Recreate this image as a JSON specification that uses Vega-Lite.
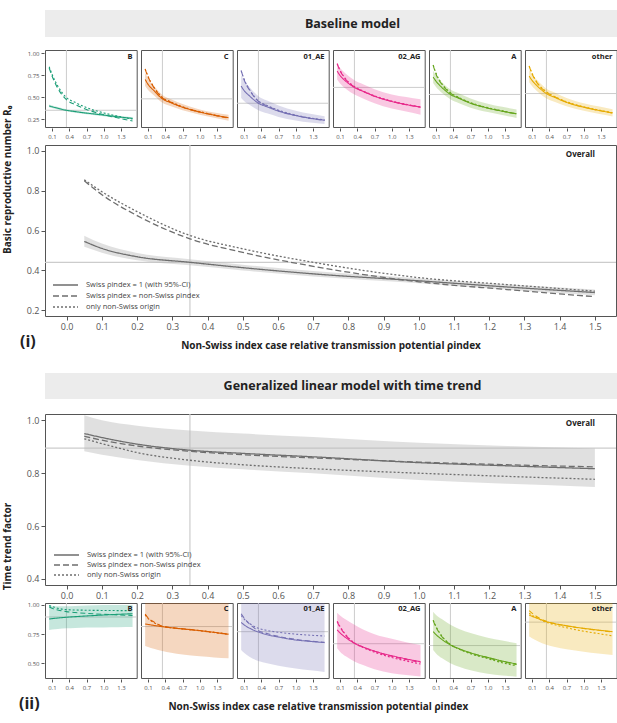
{
  "$schema": "https://vega.github.io/schema/vega-lite/v6.json",
  "description": "Basic reproductive number and time trend factor by non-Swiss index case relative transmission potential",
  "padding": {"left": 2, "top": 10, "right": 0, "bottom": 5},
  "config": {
    "font": "Open Sans",
    "view": {"stroke": "#555555", "strokeWidth": 1},
    "axis": {"domain": false, "grid": false, "tickColor": "#555555", "labelColor": "#555555", "titleColor": "#222222", "labelOverlap": false, "tickCount": 30},
    "title": {"color": "#222222"}
  },
  "datasets": {
    "baseAll": [
      {"rho": 0.05, "swiss1": 0.545, "lo": 0.518, "hi": 0.574, "swissSame": 0.85, "nonSwiss": 0.855},
      {"rho": 0.1, "swiss1": 0.51, "lo": 0.488, "hi": 0.534, "swissSame": 0.78, "nonSwiss": 0.795},
      {"rho": 0.2, "swiss1": 0.468, "lo": 0.45, "hi": 0.487, "swissSame": 0.675, "nonSwiss": 0.695},
      {"rho": 0.35, "swiss1": 0.44, "lo": 0.425, "hi": 0.456, "swissSame": 0.558, "nonSwiss": 0.575},
      {"rho": 0.5, "swiss1": 0.413, "lo": 0.399, "hi": 0.428, "swissSame": 0.49, "nonSwiss": 0.508},
      {"rho": 0.7, "swiss1": 0.382, "lo": 0.369, "hi": 0.396, "swissSame": 0.42, "nonSwiss": 0.44},
      {"rho": 1.0, "swiss1": 0.347, "lo": 0.335, "hi": 0.36, "swissSame": 0.342, "nonSwiss": 0.363},
      {"rho": 1.25, "swiss1": 0.316, "lo": 0.303, "hi": 0.33, "swissSame": 0.303, "nonSwiss": 0.328},
      {"rho": 1.5, "swiss1": 0.288, "lo": 0.274, "hi": 0.303, "swissSame": 0.267, "nonSwiss": 0.295}
    ],
    "trendAll": [
      {"rho": 0.05, "swiss1": 0.95, "lo": 0.883, "hi": 1.019, "swissSame": 0.94, "nonSwiss": 0.93},
      {"rho": 0.1, "swiss1": 0.935, "lo": 0.87, "hi": 1.0, "swissSame": 0.925, "nonSwiss": 0.912},
      {"rho": 0.2, "swiss1": 0.91, "lo": 0.85, "hi": 0.98, "swissSame": 0.903, "nonSwiss": 0.878},
      {"rho": 0.35, "swiss1": 0.887, "lo": 0.828, "hi": 0.962, "swissSame": 0.883, "nonSwiss": 0.849},
      {"rho": 0.5, "swiss1": 0.875, "lo": 0.815, "hi": 0.95, "swissSame": 0.87, "nonSwiss": 0.832},
      {"rho": 0.7, "swiss1": 0.862, "lo": 0.8, "hi": 0.937, "swissSame": 0.858, "nonSwiss": 0.817},
      {"rho": 1.0, "swiss1": 0.84, "lo": 0.774, "hi": 0.915, "swissSame": 0.842, "nonSwiss": 0.8},
      {"rho": 1.25, "swiss1": 0.828, "lo": 0.76, "hi": 0.903, "swissSame": 0.832, "nonSwiss": 0.788},
      {"rho": 1.5, "swiss1": 0.817, "lo": 0.748, "hi": 0.893, "swissSame": 0.824, "nonSwiss": 0.777}
    ],
    "baseSub": [
      {"subtype": "B", "ref": 0.35},
      {"subtype": "B", "rho": 0.05, "swiss1": 0.4, "lo": 0.385, "hi": 0.415, "swissSame": 0.83, "nonSwiss": 0.845},
      {"subtype": "B", "rho": 0.1, "swiss1": 0.39, "lo": 0.376, "hi": 0.404, "swissSame": 0.74, "nonSwiss": 0.76},
      {"subtype": "B", "rho": 0.2, "swiss1": 0.373, "lo": 0.36, "hi": 0.386, "swissSame": 0.6, "nonSwiss": 0.625},
      {"subtype": "B", "rho": 0.35, "swiss1": 0.35, "lo": 0.338, "hi": 0.362, "swissSame": 0.47, "nonSwiss": 0.495},
      {"subtype": "B", "rho": 0.5, "swiss1": 0.335, "lo": 0.323, "hi": 0.347, "swissSame": 0.415, "nonSwiss": 0.44},
      {"subtype": "B", "rho": 0.7, "swiss1": 0.318, "lo": 0.306, "hi": 0.33, "swissSame": 0.36, "nonSwiss": 0.38},
      {"subtype": "B", "rho": 1.0, "swiss1": 0.295, "lo": 0.283, "hi": 0.307, "swissSame": 0.3, "nonSwiss": 0.32},
      {"subtype": "B", "rho": 1.25, "swiss1": 0.275, "lo": 0.263, "hi": 0.288, "swissSame": 0.262, "nonSwiss": 0.282},
      {"subtype": "B", "rho": 1.5, "swiss1": 0.258, "lo": 0.245, "hi": 0.272, "swissSame": 0.228, "nonSwiss": 0.25},
      {"subtype": "C", "ref": 0.48},
      {"subtype": "C", "rho": 0.05, "swiss1": 0.7, "lo": 0.625, "hi": 0.776, "swissSame": 0.815, "nonSwiss": 0.82},
      {"subtype": "C", "rho": 0.1, "swiss1": 0.645, "lo": 0.58, "hi": 0.71, "swissSame": 0.73, "nonSwiss": 0.735},
      {"subtype": "C", "rho": 0.2, "swiss1": 0.575, "lo": 0.52, "hi": 0.63, "swissSame": 0.61, "nonSwiss": 0.615},
      {"subtype": "C", "rho": 0.35, "swiss1": 0.48, "lo": 0.435, "hi": 0.525, "swissSame": 0.49, "nonSwiss": 0.495},
      {"subtype": "C", "rho": 0.5, "swiss1": 0.435, "lo": 0.395, "hi": 0.475, "swissSame": 0.44, "nonSwiss": 0.445},
      {"subtype": "C", "rho": 0.7, "swiss1": 0.385, "lo": 0.35, "hi": 0.42, "swissSame": 0.385, "nonSwiss": 0.39},
      {"subtype": "C", "rho": 1.0, "swiss1": 0.33, "lo": 0.3, "hi": 0.36, "swissSame": 0.33, "nonSwiss": 0.335},
      {"subtype": "C", "rho": 1.25, "swiss1": 0.295, "lo": 0.265, "hi": 0.325, "swissSame": 0.293, "nonSwiss": 0.297},
      {"subtype": "C", "rho": 1.5, "swiss1": 0.265, "lo": 0.232, "hi": 0.3, "swissSame": 0.262, "nonSwiss": 0.265},
      {"subtype": "01_AE", "ref": 0.43},
      {"subtype": "01_AE", "rho": 0.05, "swiss1": 0.625, "lo": 0.49, "hi": 0.75, "swissSame": 0.8, "nonSwiss": 0.8},
      {"subtype": "01_AE", "rho": 0.1, "swiss1": 0.575, "lo": 0.455, "hi": 0.69, "swissSame": 0.7, "nonSwiss": 0.705},
      {"subtype": "01_AE", "rho": 0.2, "swiss1": 0.51, "lo": 0.41, "hi": 0.61, "swissSame": 0.575, "nonSwiss": 0.58},
      {"subtype": "01_AE", "rho": 0.35, "swiss1": 0.43, "lo": 0.35, "hi": 0.51, "swissSame": 0.45, "nonSwiss": 0.455},
      {"subtype": "01_AE", "rho": 0.5, "swiss1": 0.39, "lo": 0.315, "hi": 0.46, "swissSame": 0.4, "nonSwiss": 0.405},
      {"subtype": "01_AE", "rho": 0.7, "swiss1": 0.34, "lo": 0.275, "hi": 0.405, "swissSame": 0.345, "nonSwiss": 0.35},
      {"subtype": "01_AE", "rho": 1.0, "swiss1": 0.29, "lo": 0.235, "hi": 0.345, "swissSame": 0.29, "nonSwiss": 0.295},
      {"subtype": "01_AE", "rho": 1.25, "swiss1": 0.26, "lo": 0.21, "hi": 0.31, "swissSame": 0.258, "nonSwiss": 0.262},
      {"subtype": "01_AE", "rho": 1.5, "swiss1": 0.238, "lo": 0.195, "hi": 0.282, "swissSame": 0.235, "nonSwiss": 0.24},
      {"subtype": "02_AG", "ref": 0.61},
      {"subtype": "02_AG", "rho": 0.05, "swiss1": 0.795, "lo": 0.7, "hi": 0.87, "swissSame": 0.878, "nonSwiss": 0.88},
      {"subtype": "02_AG", "rho": 0.1, "swiss1": 0.745, "lo": 0.655, "hi": 0.83, "swissSame": 0.8, "nonSwiss": 0.805},
      {"subtype": "02_AG", "rho": 0.2, "swiss1": 0.68, "lo": 0.595, "hi": 0.765, "swissSame": 0.7, "nonSwiss": 0.705},
      {"subtype": "02_AG", "rho": 0.35, "swiss1": 0.61, "lo": 0.53, "hi": 0.69, "swissSame": 0.615, "nonSwiss": 0.62},
      {"subtype": "02_AG", "rho": 0.5, "swiss1": 0.565, "lo": 0.485, "hi": 0.645, "swissSame": 0.565, "nonSwiss": 0.57},
      {"subtype": "02_AG", "rho": 0.7, "swiss1": 0.51, "lo": 0.43, "hi": 0.59, "swissSame": 0.51, "nonSwiss": 0.515},
      {"subtype": "02_AG", "rho": 1.0, "swiss1": 0.45, "lo": 0.37, "hi": 0.53, "swissSame": 0.45, "nonSwiss": 0.455},
      {"subtype": "02_AG", "rho": 1.25, "swiss1": 0.415, "lo": 0.335, "hi": 0.5, "swissSame": 0.413, "nonSwiss": 0.418},
      {"subtype": "02_AG", "rho": 1.5, "swiss1": 0.386, "lo": 0.3, "hi": 0.474, "swissSame": 0.384, "nonSwiss": 0.388},
      {"subtype": "A", "ref": 0.53},
      {"subtype": "A", "rho": 0.05, "swiss1": 0.727, "lo": 0.66, "hi": 0.8, "swissSame": 0.86, "nonSwiss": 0.865},
      {"subtype": "A", "rho": 0.1, "swiss1": 0.68, "lo": 0.615, "hi": 0.745, "swissSame": 0.76, "nonSwiss": 0.77},
      {"subtype": "A", "rho": 0.2, "swiss1": 0.61, "lo": 0.55, "hi": 0.67, "swissSame": 0.645, "nonSwiss": 0.655},
      {"subtype": "A", "rho": 0.35, "swiss1": 0.53, "lo": 0.475, "hi": 0.585, "swissSame": 0.545, "nonSwiss": 0.55},
      {"subtype": "A", "rho": 0.5, "swiss1": 0.485, "lo": 0.43, "hi": 0.54, "swissSame": 0.49, "nonSwiss": 0.495},
      {"subtype": "A", "rho": 0.7, "swiss1": 0.43, "lo": 0.38, "hi": 0.485, "swissSame": 0.432, "nonSwiss": 0.437},
      {"subtype": "A", "rho": 1.0, "swiss1": 0.375, "lo": 0.33, "hi": 0.425, "swissSame": 0.375, "nonSwiss": 0.38},
      {"subtype": "A", "rho": 1.25, "swiss1": 0.34, "lo": 0.295, "hi": 0.39, "swissSame": 0.34, "nonSwiss": 0.343},
      {"subtype": "A", "rho": 1.5, "swiss1": 0.31, "lo": 0.262, "hi": 0.358, "swissSame": 0.308, "nonSwiss": 0.31},
      {"subtype": "other", "ref": 0.54},
      {"subtype": "other", "rho": 0.05, "swiss1": 0.738, "lo": 0.668, "hi": 0.81, "swissSame": 0.85, "nonSwiss": 0.855},
      {"subtype": "other", "rho": 0.1, "swiss1": 0.69, "lo": 0.625, "hi": 0.76, "swissSame": 0.765, "nonSwiss": 0.77},
      {"subtype": "other", "rho": 0.2, "swiss1": 0.62, "lo": 0.56, "hi": 0.685, "swissSame": 0.65, "nonSwiss": 0.655},
      {"subtype": "other", "rho": 0.35, "swiss1": 0.54, "lo": 0.485, "hi": 0.595, "swissSame": 0.555, "nonSwiss": 0.56},
      {"subtype": "other", "rho": 0.5, "swiss1": 0.495, "lo": 0.445, "hi": 0.55, "swissSame": 0.5, "nonSwiss": 0.505},
      {"subtype": "other", "rho": 0.7, "swiss1": 0.44, "lo": 0.395, "hi": 0.49, "swissSame": 0.442, "nonSwiss": 0.447},
      {"subtype": "other", "rho": 1.0, "swiss1": 0.385, "lo": 0.345, "hi": 0.43, "swissSame": 0.385, "nonSwiss": 0.39},
      {"subtype": "other", "rho": 1.25, "swiss1": 0.35, "lo": 0.31, "hi": 0.395, "swissSame": 0.35, "nonSwiss": 0.354},
      {"subtype": "other", "rho": 1.5, "swiss1": 0.32, "lo": 0.28, "hi": 0.362, "swissSame": 0.318, "nonSwiss": 0.322}
    ],
    "trendSub": [
      {"subtype": "B", "ref": 0.897},
      {"subtype": "B", "rho": 0.05, "swiss1": 0.88, "lo": 0.786, "hi": 0.995, "swissSame": 0.985, "nonSwiss": 0.995},
      {"subtype": "B", "rho": 0.1, "swiss1": 0.883, "lo": 0.79, "hi": 0.99, "swissSame": 0.972, "nonSwiss": 0.988},
      {"subtype": "B", "rho": 0.2, "swiss1": 0.888, "lo": 0.795, "hi": 0.99, "swissSame": 0.957, "nonSwiss": 0.972},
      {"subtype": "B", "rho": 0.35, "swiss1": 0.895, "lo": 0.8, "hi": 0.99, "swissSame": 0.943, "nonSwiss": 0.96},
      {"subtype": "B", "rho": 0.5, "swiss1": 0.9, "lo": 0.803, "hi": 0.992, "swissSame": 0.935, "nonSwiss": 0.957},
      {"subtype": "B", "rho": 0.7, "swiss1": 0.906, "lo": 0.806, "hi": 0.995, "swissSame": 0.928, "nonSwiss": 0.955},
      {"subtype": "B", "rho": 1.0, "swiss1": 0.914, "lo": 0.808, "hi": 1.0, "swissSame": 0.92, "nonSwiss": 0.953},
      {"subtype": "B", "rho": 1.25, "swiss1": 0.92, "lo": 0.81, "hi": 1.0, "swissSame": 0.915, "nonSwiss": 0.952},
      {"subtype": "B", "rho": 1.5, "swiss1": 0.925, "lo": 0.812, "hi": 1.0, "swissSame": 0.91, "nonSwiss": 0.952},
      {"subtype": "C", "ref": 0.815},
      {"subtype": "C", "rho": 0.05, "swiss1": 0.837, "lo": 0.649, "hi": 1.06, "swissSame": 0.923, "nonSwiss": 0.915},
      {"subtype": "C", "rho": 0.1, "swiss1": 0.833, "lo": 0.64, "hi": 1.06, "swissSame": 0.89, "nonSwiss": 0.885},
      {"subtype": "C", "rho": 0.2, "swiss1": 0.825, "lo": 0.625, "hi": 1.06, "swissSame": 0.855, "nonSwiss": 0.85},
      {"subtype": "C", "rho": 0.35, "swiss1": 0.814, "lo": 0.605, "hi": 1.06, "swissSame": 0.818, "nonSwiss": 0.818},
      {"subtype": "C", "rho": 0.5, "swiss1": 0.805, "lo": 0.59, "hi": 1.06, "swissSame": 0.806, "nonSwiss": 0.805},
      {"subtype": "C", "rho": 0.7, "swiss1": 0.795, "lo": 0.575, "hi": 1.06, "swissSame": 0.796, "nonSwiss": 0.794},
      {"subtype": "C", "rho": 1.0, "swiss1": 0.78, "lo": 0.56, "hi": 1.06, "swissSame": 0.781, "nonSwiss": 0.779},
      {"subtype": "C", "rho": 1.25, "swiss1": 0.765, "lo": 0.55, "hi": 1.06, "swissSame": 0.766, "nonSwiss": 0.764},
      {"subtype": "C", "rho": 1.5, "swiss1": 0.749, "lo": 0.543, "hi": 1.06, "swissSame": 0.75, "nonSwiss": 0.748},
      {"subtype": "01_AE", "ref": 0.771},
      {"subtype": "01_AE", "rho": 0.05, "swiss1": 0.85, "lo": 0.614, "hi": 1.06, "swissSame": 0.925, "nonSwiss": 0.91},
      {"subtype": "01_AE", "rho": 0.1, "swiss1": 0.83, "lo": 0.59, "hi": 1.06, "swissSame": 0.89, "nonSwiss": 0.88},
      {"subtype": "01_AE", "rho": 0.2, "swiss1": 0.8, "lo": 0.555, "hi": 1.06, "swissSame": 0.835, "nonSwiss": 0.84},
      {"subtype": "01_AE", "rho": 0.35, "swiss1": 0.768, "lo": 0.52, "hi": 1.06, "swissSame": 0.78, "nonSwiss": 0.8},
      {"subtype": "01_AE", "rho": 0.5, "swiss1": 0.745, "lo": 0.5, "hi": 1.06, "swissSame": 0.755, "nonSwiss": 0.782},
      {"subtype": "01_AE", "rho": 0.7, "swiss1": 0.725, "lo": 0.48, "hi": 1.06, "swissSame": 0.73, "nonSwiss": 0.766},
      {"subtype": "01_AE", "rho": 1.0, "swiss1": 0.7, "lo": 0.455, "hi": 1.06, "swissSame": 0.705, "nonSwiss": 0.75},
      {"subtype": "01_AE", "rho": 1.25, "swiss1": 0.688, "lo": 0.44, "hi": 1.06, "swissSame": 0.69, "nonSwiss": 0.741},
      {"subtype": "01_AE", "rho": 1.5, "swiss1": 0.677, "lo": 0.425, "hi": 1.06, "swissSame": 0.68, "nonSwiss": 0.734},
      {"subtype": "02_AG", "ref": 0.668},
      {"subtype": "02_AG", "rho": 0.05, "swiss1": 0.786, "lo": 0.629, "hi": 0.934, "swissSame": 0.857, "nonSwiss": 0.86},
      {"subtype": "02_AG", "rho": 0.1, "swiss1": 0.76, "lo": 0.6, "hi": 0.91, "swissSame": 0.81, "nonSwiss": 0.815},
      {"subtype": "02_AG", "rho": 0.2, "swiss1": 0.72, "lo": 0.56, "hi": 0.875, "swissSame": 0.74, "nonSwiss": 0.745},
      {"subtype": "02_AG", "rho": 0.35, "swiss1": 0.672, "lo": 0.515, "hi": 0.83, "swissSame": 0.672, "nonSwiss": 0.675},
      {"subtype": "02_AG", "rho": 0.5, "swiss1": 0.64, "lo": 0.485, "hi": 0.79, "swissSame": 0.64, "nonSwiss": 0.635},
      {"subtype": "02_AG", "rho": 0.7, "swiss1": 0.605, "lo": 0.45, "hi": 0.75, "swissSame": 0.603, "nonSwiss": 0.595},
      {"subtype": "02_AG", "rho": 1.0, "swiss1": 0.565, "lo": 0.415, "hi": 0.71, "swissSame": 0.56, "nonSwiss": 0.55},
      {"subtype": "02_AG", "rho": 1.25, "swiss1": 0.538, "lo": 0.4, "hi": 0.68, "swissSame": 0.532, "nonSwiss": 0.52},
      {"subtype": "02_AG", "rho": 1.5, "swiss1": 0.514, "lo": 0.386, "hi": 0.657, "swissSame": 0.508, "nonSwiss": 0.494},
      {"subtype": "A", "ref": 0.652},
      {"subtype": "A", "rho": 0.05, "swiss1": 0.771, "lo": 0.614, "hi": 0.943, "swissSame": 0.866, "nonSwiss": 0.87},
      {"subtype": "A", "rho": 0.1, "swiss1": 0.745, "lo": 0.585, "hi": 0.915, "swissSame": 0.81, "nonSwiss": 0.815},
      {"subtype": "A", "rho": 0.2, "swiss1": 0.705, "lo": 0.545, "hi": 0.88, "swissSame": 0.73, "nonSwiss": 0.735},
      {"subtype": "A", "rho": 0.35, "swiss1": 0.657, "lo": 0.5, "hi": 0.83, "swissSame": 0.66, "nonSwiss": 0.662},
      {"subtype": "A", "rho": 0.5, "swiss1": 0.625, "lo": 0.47, "hi": 0.795, "swissSame": 0.625, "nonSwiss": 0.622},
      {"subtype": "A", "rho": 0.7, "swiss1": 0.59, "lo": 0.44, "hi": 0.76, "swissSame": 0.588, "nonSwiss": 0.582},
      {"subtype": "A", "rho": 1.0, "swiss1": 0.55, "lo": 0.41, "hi": 0.72, "swissSame": 0.548, "nonSwiss": 0.54},
      {"subtype": "A", "rho": 1.25, "swiss1": 0.52, "lo": 0.395, "hi": 0.695, "swissSame": 0.515, "nonSwiss": 0.505},
      {"subtype": "A", "rho": 1.5, "swiss1": 0.494, "lo": 0.385, "hi": 0.672, "swissSame": 0.49, "nonSwiss": 0.478},
      {"subtype": "other", "ref": 0.853},
      {"subtype": "other", "rho": 0.05, "swiss1": 0.914, "lo": 0.729, "hi": 1.06, "swissSame": 0.951, "nonSwiss": 0.93},
      {"subtype": "other", "rho": 0.1, "swiss1": 0.903, "lo": 0.715, "hi": 1.06, "swissSame": 0.93, "nonSwiss": 0.912},
      {"subtype": "other", "rho": 0.2, "swiss1": 0.885, "lo": 0.69, "hi": 1.06, "swissSame": 0.895, "nonSwiss": 0.885},
      {"subtype": "other", "rho": 0.35, "swiss1": 0.857, "lo": 0.66, "hi": 1.06, "swissSame": 0.86, "nonSwiss": 0.852},
      {"subtype": "other", "rho": 0.5, "swiss1": 0.84, "lo": 0.64, "hi": 1.06, "swissSame": 0.84, "nonSwiss": 0.83},
      {"subtype": "other", "rho": 0.7, "swiss1": 0.822, "lo": 0.62, "hi": 1.06, "swissSame": 0.82, "nonSwiss": 0.805},
      {"subtype": "other", "rho": 1.0, "swiss1": 0.8, "lo": 0.6, "hi": 1.06, "swissSame": 0.798, "nonSwiss": 0.775},
      {"subtype": "other", "rho": 1.25, "swiss1": 0.785, "lo": 0.585, "hi": 1.06, "swissSame": 0.783, "nonSwiss": 0.755},
      {"subtype": "other", "rho": 1.5, "swiss1": 0.771, "lo": 0.571, "hi": 1.06, "swissSame": 0.769, "nonSwiss": 0.735}
    ]
  },
  "vconcat": [
    {
      "spacing": 12,
      "vconcat": [
        {
          "width": 615,
          "height": 27,
          "view": {"fill": "#ececec", "stroke": null},
          "data": {"values": [{"heading": "Baseline model"}]},
          "mark": {"type": "text", "fontSize": 12.5, "fontWeight": "bold", "color": "#222222"},
          "encoding": {
            "text": {"field": "heading"},
            "x": {"datum": 0.5, "type": "quantitative", "scale": {"domain": [0, 1]}, "axis": null},
            "y": {"datum": 0.5, "type": "quantitative", "scale": {"domain": [0, 1]}, "axis": null}
          }
        },
        {
          "spacing": 4,
          "title": {"text": "Basic reproductive number R₀", "orient": "left", "anchor": "middle", "fontSize": 10, "fontWeight": "bold", "offset": 6, "dx": 20},
          "resolve": {"scale": {"strokeDash": "independent", "color": "independent"}},
          "vconcat": [
            {
              "data": {"name": "baseSub"},
              "facet": {"column": {"field": "subtype", "type": "nominal", "sort": ["B", "C", "01_AE", "02_AG", "A", "other"], "header": null}},
              "spacing": 2,
              "spec": {
                "width": 91.7,
                "height": 77,
                "layer": [
                  {
                    "transform": [{"filter": "datum.ref != null"}],
                    "mark": {"type": "rule", "color": "#cccccc", "strokeWidth": 1},
                    "encoding": {"y": {"field": "ref", "type": "quantitative"}}
                  },
                  {
                    "transform": [{"filter": "datum.ref != null"}],
                    "mark": {"type": "rule", "color": "#cccccc", "strokeWidth": 1},
                    "encoding": {"x": {"datum": 0.35, "type": "quantitative"}}
                  },
                  {
                    "transform": [{"filter": "datum.rho != null"}],
                    "mark": {"type": "area", "opacity": 0.25, "clip": true, "interpolate": "monotone"},
                    "encoding": {
                      "x": {"field": "rho", "type": "quantitative", "scale": {"domain": [-0.0225, 1.5725], "nice": false, "zero": false},
                        "axis": {"values": [0.1, 0.4, 0.7, 1.0, 1.3], "tickCount": 30, "format": ".1f", "title": null, "labelFontSize": 6, "tickSize": 3, "labelPadding": 2, "labelOverlap": false}},
                      "y": {"field": "lo", "type": "quantitative", "scale": {"domain": [0.16, 1.035], "nice": false, "zero": false},
                        "axis": {"values": [0.25, 0.5, 0.75, 1.0], "tickCount": 30, "format": ".2f", "title": null, "labelFontSize": 6, "tickSize": 3, "labelPadding": 2, "minExtent": 25, "labelOverlap": false}},
                      "y2": {"field": "hi"},
                      "color": {"field": "subtype", "type": "nominal", "scale": {"domain": ["B", "C", "01_AE", "02_AG", "A", "other"], "range": ["#1b9e77", "#d95f02", "#7570b3", "#e7298a", "#66a61e", "#e6ab02"]}, "legend": null}
                    }
                  },
                  {
                    "transform": [{"filter": "datum.rho != null"}, {"fold": ["swiss1", "swissSame", "nonSwiss"], "as": ["scenario", "value"]}],
                    "mark": {"type": "line", "strokeWidth": 1.1, "clip": true, "interpolate": "monotone"},
                    "encoding": {
                      "x": {"field": "rho", "type": "quantitative"},
                      "y": {"field": "value", "type": "quantitative"},
                      "color": {"field": "subtype", "type": "nominal", "legend": null},
                      "strokeDash": {"field": "scenario", "type": "nominal", "scale": {"domain": ["swiss1", "swissSame", "nonSwiss"], "range": [[1, 0], [5, 3], [2, 2]]}, "legend": null}
                    }
                  },
                  {
                    "transform": [{"filter": "datum.ref != null"}],
                    "mark": {"type": "text", "align": "right", "baseline": "top", "fontSize": 7.5, "fontWeight": "bold", "color": "#222222"},
                    "encoding": {"x": {"datum": 1.5}, "y": {"datum": 1.0}, "text": {"field": "subtype"}}
                  }
                ]
              }
            },
            {
              "width": 571,
              "height": 171,
              "data": {"name": "baseAll"},
              "title": {"text": "(i)", "orient": "bottom", "anchor": "start", "fontSize": 16, "fontWeight": "bold", "offset": -16},
              "layer": [
                {
                  "data": {"values": [{"ref": 0.44}]},
                  "mark": {"type": "rule", "color": "#cccccc", "strokeWidth": 1.2},
                  "encoding": {"y": {"field": "ref", "type": "quantitative"}}
                },
                {
                  "data": {"values": [{"ref": 0.44}]},
                  "mark": {"type": "rule", "color": "#cccccc", "strokeWidth": 1.2},
                  "encoding": {"x": {"datum": 0.35, "type": "quantitative"}}
                },
                {
                  "mark": {"type": "area", "color": "#bbbbbb", "opacity": 0.45, "interpolate": "monotone"},
                  "encoding": {
                    "x": {"field": "rho", "type": "quantitative", "scale": {"domain": [-0.0616, 1.56], "nice": false, "zero": false},
                      "axis": {"values": [0, 0.1, 0.2, 0.3, 0.4, 0.5, 0.6, 0.7, 0.8, 0.9, 1.0, 1.1, 1.2, 1.3, 1.4, 1.5], "tickCount": 30, "format": ".1f", "labelFontSize": 9, "tickSize": 4, "labelPadding": 2, "labelOverlap": false,
                        "title": "Non-Swiss index case relative transmission potential ρindex", "titleFontSize": 10, "titleFontWeight": "bold", "titlePadding": 9}},
                    "y": {"field": "lo", "type": "quantitative", "scale": {"domain": [0.17, 1.03], "nice": false, "zero": false},
                      "axis": {"values": [0.2, 0.4, 0.6, 0.8, 1.0], "tickCount": 30, "format": ".1f", "title": null, "labelFontSize": 9, "tickSize": 4, "labelPadding": 2, "minExtent": 25, "labelOverlap": false}},
                    "y2": {"field": "hi"}
                  }
                },
                {
                  "transform": [{"fold": ["swiss1", "swissSame", "nonSwiss"], "as": ["scenario", "value"]}],
                  "mark": {"type": "line", "color": "#6e6e6e", "strokeWidth": 1.3, "interpolate": "monotone"},
                  "encoding": {
                    "x": {"field": "rho", "type": "quantitative"},
                    "y": {"field": "value", "type": "quantitative"},
                    "strokeDash": {"field": "scenario", "type": "nominal", "scale": {"domain": ["swiss1", "swissSame", "nonSwiss"], "range": [[1, 0], [6, 3], [2, 2]]},
                      "legend": {"orient": "bottom-left", "title": null, "symbolType": "M-0.6,0L4.4,0", "symbolStrokeColor": "#6e6e6e", "symbolFillColor": "transparent", "symbolStrokeWidth": 1.3, "symbolSize": 100,
                        "labelOffset": 24, "labelFontSize": 7.5, "labelColor": "#444444", "rowPadding": 1, "offset": 5, "padding": 0,
                        "labelExpr": "datum.value == 'swiss1' ? 'Swiss ρindex = 1 (with 95%-CI)' : datum.value == 'swissSame' ? 'Swiss ρindex = non-Swiss ρindex' : 'only non-Swiss origin'"}}
                  }
                },
                {
                  "data": {"values": [{"label": "Overall"}]},
                  "mark": {"type": "text", "align": "right", "baseline": "top", "fontSize": 8, "fontWeight": "bold", "color": "#222222"},
                  "encoding": {"x": {"datum": 1.5}, "y": {"datum": 1.0}, "text": {"field": "label"}}
                }
              ]
            }
          ]
        }
      ]
    },
    {
      "spacing": 13,
      "vconcat": [
        {
          "width": 615,
          "height": 26,
          "view": {"fill": "#ececec", "stroke": null},
          "data": {"values": [{"heading": "Generalized linear model with time trend"}]},
          "mark": {"type": "text", "fontSize": 12.5, "fontWeight": "bold", "color": "#222222"},
          "encoding": {
            "text": {"field": "heading"},
            "x": {"datum": 0.5, "type": "quantitative", "scale": {"domain": [0, 1]}, "axis": null},
            "y": {"datum": 0.5, "type": "quantitative", "scale": {"domain": [0, 1]}, "axis": null}
          }
        },
        {
          "spacing": 0,
          "title": {"text": "Time trend factor", "orient": "left", "anchor": "middle", "fontSize": 10, "fontWeight": "bold", "offset": 6, "dx": 16},
          "resolve": {"scale": {"strokeDash": "independent", "color": "independent"}},
          "vconcat": [
            {
              "width": 571,
              "height": 171,
              "data": {"name": "trendAll"},
              "layer": [
                {
                  "data": {"values": [{"ref": 0.895}]},
                  "mark": {"type": "rule", "color": "#cccccc", "strokeWidth": 1.2},
                  "encoding": {"y": {"field": "ref", "type": "quantitative"}}
                },
                {
                  "data": {"values": [{"ref": 0.895}]},
                  "mark": {"type": "rule", "color": "#cccccc", "strokeWidth": 1.2},
                  "encoding": {"x": {"datum": 0.35, "type": "quantitative"}}
                },
                {
                  "mark": {"type": "area", "color": "#bbbbbb", "opacity": 0.45, "clip": true, "interpolate": "monotone"},
                  "encoding": {
                    "x": {"field": "rho", "type": "quantitative", "scale": {"domain": [-0.0616, 1.56], "nice": false, "zero": false},
                      "axis": {"values": [0, 0.1, 0.2, 0.3, 0.4, 0.5, 0.6, 0.7, 0.8, 0.9, 1.0, 1.1, 1.2, 1.3, 1.4, 1.5], "tickCount": 30, "format": ".1f", "labelFontSize": 9, "tickSize": 4, "labelPadding": 2, "labelOverlap": false, "title": null}},
                    "y": {"field": "lo", "type": "quantitative", "scale": {"domain": [0.377, 1.024], "nice": false, "zero": false},
                      "axis": {"values": [0.4, 0.6, 0.8, 1.0], "tickCount": 30, "format": ".1f", "title": null, "labelFontSize": 9, "tickSize": 4, "labelPadding": 2, "minExtent": 25, "labelOverlap": false}},
                    "y2": {"field": "hi"}
                  }
                },
                {
                  "transform": [{"fold": ["swiss1", "swissSame", "nonSwiss"], "as": ["scenario", "value"]}],
                  "mark": {"type": "line", "color": "#6e6e6e", "strokeWidth": 1.3, "interpolate": "monotone"},
                  "encoding": {
                    "x": {"field": "rho", "type": "quantitative"},
                    "y": {"field": "value", "type": "quantitative"},
                    "strokeDash": {"field": "scenario", "type": "nominal", "scale": {"domain": ["swiss1", "swissSame", "nonSwiss"], "range": [[1, 0], [6, 3], [2, 2]]},
                      "legend": {"orient": "bottom-left", "title": null, "symbolType": "M-0.6,0L4.4,0", "symbolStrokeColor": "#6e6e6e", "symbolFillColor": "transparent", "symbolStrokeWidth": 1.3, "symbolSize": 100,
                        "labelOffset": 24, "labelFontSize": 7.5, "labelColor": "#444444", "rowPadding": 0, "offset": 6, "padding": 0,
                        "labelExpr": "datum.value == 'swiss1' ? 'Swiss ρindex = 1 (with 95%-CI)' : datum.value == 'swissSame' ? 'Swiss ρindex = non-Swiss ρindex' : 'only non-Swiss origin'"}}
                  }
                },
                {
                  "data": {"values": [{"label": "Overall"}]},
                  "mark": {"type": "text", "align": "right", "baseline": "top", "fontSize": 8, "fontWeight": "bold", "color": "#222222"},
                  "encoding": {"x": {"datum": 1.5}, "y": {"datum": 1.0}, "text": {"field": "label"}}
                }
              ]
            },
            {
              "title": {"text": "(ii)", "orient": "bottom", "anchor": "start", "fontSize": 16, "fontWeight": "bold", "offset": -16},
              "vconcat": [
                {
                  "data": {"name": "trendSub"},
                  "title": {"text": "Non-Swiss index case relative transmission potential ρindex", "orient": "bottom", "anchor": "middle", "fontSize": 10, "fontWeight": "bold", "offset": 12},
                  "facet": {"column": {"field": "subtype", "type": "nominal", "sort": ["B", "C", "01_AE", "02_AG", "A", "other"], "header": null}},
                  "spacing": 2,
                  "spec": {
                    "width": 91.7,
                    "height": 75,
                    "layer": [
                      {
                        "transform": [{"filter": "datum.ref != null"}],
                        "mark": {"type": "rule", "color": "#cccccc", "strokeWidth": 1},
                        "encoding": {"y": {"field": "ref", "type": "quantitative"}}
                      },
                      {
                        "transform": [{"filter": "datum.ref != null"}],
                        "mark": {"type": "rule", "color": "#cccccc", "strokeWidth": 1},
                        "encoding": {"x": {"datum": 0.35, "type": "quantitative"}}
                      },
                      {
                        "transform": [{"filter": "datum.rho != null"}],
                        "mark": {"type": "area", "opacity": 0.25, "clip": true, "interpolate": "monotone"},
                        "encoding": {
                          "x": {"field": "rho", "type": "quantitative", "scale": {"domain": [-0.0225, 1.5725], "nice": false, "zero": false},
                            "axis": {"values": [0.1, 0.4, 0.7, 1.0, 1.3], "tickCount": 30, "format": ".1f", "title": null, "labelFontSize": 6, "tickSize": 3, "labelPadding": 2, "labelOverlap": false}},
                          "y": {"field": "lo", "type": "quantitative", "scale": {"domain": [0.374, 1.017], "nice": false, "zero": false},
                            "axis": {"values": [0.5, 0.75, 1.0], "tickCount": 30, "format": ".2f", "title": null, "labelFontSize": 6, "tickSize": 3, "labelPadding": 2, "minExtent": 25, "labelOverlap": false}},
                          "y2": {"field": "hi"},
                          "color": {"field": "subtype", "type": "nominal", "scale": {"domain": ["B", "C", "01_AE", "02_AG", "A", "other"], "range": ["#1b9e77", "#d95f02", "#7570b3", "#e7298a", "#66a61e", "#e6ab02"]}, "legend": null}
                        }
                      },
                      {
                        "transform": [{"filter": "datum.rho != null"}, {"fold": ["swiss1", "swissSame", "nonSwiss"], "as": ["scenario", "value"]}],
                        "mark": {"type": "line", "strokeWidth": 1.1, "clip": true, "interpolate": "monotone"},
                        "encoding": {
                          "x": {"field": "rho", "type": "quantitative"},
                          "y": {"field": "value", "type": "quantitative"},
                          "color": {"field": "subtype", "type": "nominal", "legend": null},
                          "strokeDash": {"field": "scenario", "type": "nominal", "scale": {"domain": ["swiss1", "swissSame", "nonSwiss"], "range": [[1, 0], [5, 3], [2, 2]]}, "legend": null}
                        }
                      },
                      {
                        "transform": [{"filter": "datum.ref != null"}],
                        "mark": {"type": "text", "align": "right", "baseline": "top", "fontSize": 7.5, "fontWeight": "bold", "color": "#222222"},
                        "encoding": {"x": {"datum": 1.5}, "y": {"datum": 1.0}, "text": {"field": "subtype"}}
                      }
                    ]
                  }
                }
              ]
            }
          ]
        }
      ]
    }
  ],
  "spacing": 22,
  "resolve": {"scale": {"strokeDash": "independent", "color": "independent"}}
}
